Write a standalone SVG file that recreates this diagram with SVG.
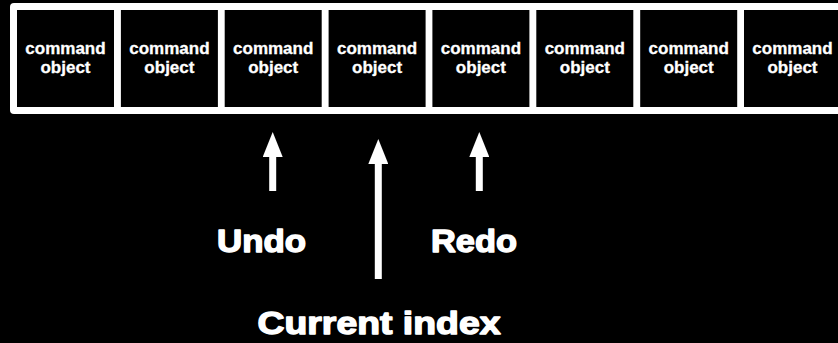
<svg xmlns="http://www.w3.org/2000/svg" width="838" height="343" viewBox="0 0 838 343">
  <style>
    .cell { fill: #000; }
    .ctext { fill: #fff; font-family: "Liberation Sans", Arial, sans-serif; font-weight: bold; font-size: 17px; text-anchor: middle; stroke: #fff; stroke-width: 0.3; }
    .label { fill: #fff; font-family: "Liberation Sans", Arial, sans-serif; font-weight: bold; font-size: 32px; stroke: #fff; stroke-width: 1.4; stroke-linejoin: round; }
    .shaft { stroke: #fff; stroke-width: 7; fill: none; }
  </style>
  <defs>
    <!-- arrowhead drawn along +x so orient="auto" points it along the line -->
    <marker id="head" markerUnits="userSpaceOnUse" markerWidth="25" markerHeight="20" viewBox="0 0 25 20" refX="0" refY="10" orient="auto">
      <path d="M0 0 L25 10 L0 20 Z" fill="#fff"/>
    </marker>
  </defs>
  <rect width="838" height="343" fill="#000"/>

  <!-- command stack strip -->
  <rect id="stack" x="10" y="3" width="845" height="111" rx="4" fill="#fff"/>

  <g id="cmd1"><rect class="cell" x="17" y="10" width="97" height="97"/><text class="ctext" x="65.5" y="53.5">command</text><text class="ctext" x="65.5" y="73">object</text></g>
  <g id="cmd2"><rect class="cell" x="120.9" y="10" width="97" height="97"/><text class="ctext" x="169.4" y="53.5">command</text><text class="ctext" x="169.4" y="73">object</text></g>
  <g id="cmd3"><rect class="cell" x="224.7" y="10" width="97" height="97"/><text class="ctext" x="273.2" y="53.5">command</text><text class="ctext" x="273.2" y="73">object</text></g>
  <g id="cmd4"><rect class="cell" x="328.6" y="10" width="97" height="97"/><text class="ctext" x="377.1" y="53.5">command</text><text class="ctext" x="377.1" y="73">object</text></g>
  <g id="cmd5"><rect class="cell" x="432.4" y="10" width="97" height="97"/><text class="ctext" x="480.9" y="53.5">command</text><text class="ctext" x="480.9" y="73">object</text></g>
  <g id="cmd6"><rect class="cell" x="536.3" y="10" width="97" height="97"/><text class="ctext" x="584.8" y="53.5">command</text><text class="ctext" x="584.8" y="73">object</text></g>
  <g id="cmd7"><rect class="cell" x="640.2" y="10" width="97" height="97"/><text class="ctext" x="688.7" y="53.5">command</text><text class="ctext" x="688.7" y="73">object</text></g>
  <g id="cmd8"><rect class="cell" x="744" y="10" width="97" height="97"/><text class="ctext" x="792.5" y="53.5">command</text><text class="ctext" x="792.5" y="73">object</text></g>

  <!-- pointers into the stack -->
  <g id="connectors">
    <line class="shaft" x1="272.7" y1="191" x2="272.7" y2="157" marker-end="url(#head)"/>
    <line class="shaft" x1="378.3" y1="279" x2="378.3" y2="164" marker-end="url(#head)"/>
    <line class="shaft" x1="479.3" y1="191" x2="479.3" y2="157" marker-end="url(#head)"/>
  </g>

  <g id="undo"><text class="label" x="217" y="251.7" textLength="89" lengthAdjust="spacingAndGlyphs">Undo</text></g>
  <g id="redo"><text class="label" x="431" y="251.7" textLength="86" lengthAdjust="spacingAndGlyphs">Redo</text></g>
  <g id="current"><text class="label" x="257.5" y="334" textLength="243" lengthAdjust="spacingAndGlyphs">Current index</text></g>
</svg>
